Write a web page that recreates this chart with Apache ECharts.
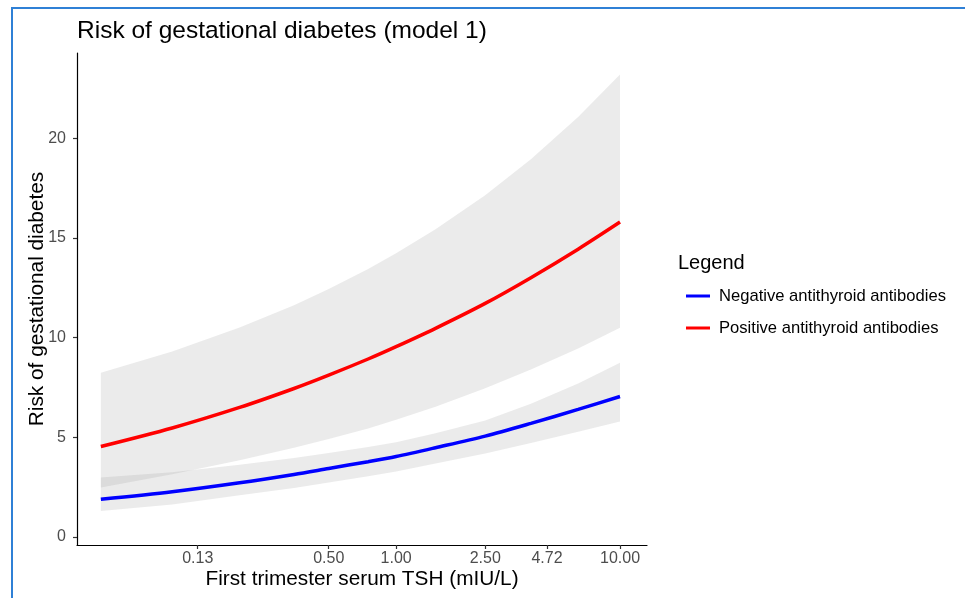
<!DOCTYPE html>
<html>
<head>
<meta charset="utf-8">
<script src="https://cdn.jsdelivr.net/npm/echarts@6/dist/echarts.min.js"></script>
<style>
html,body{margin:0;padding:0;background:#fff;}
#chart{width:965px;height:598px;}
</style>
</head>
<body>
<div id="chart"></div>
<script>
// TSH sample points (mIU/L)
const tsh = [0.048, 0.1, 0.2, 0.35, 0.5, 0.75, 1, 1.5, 2.5, 4, 6.5, 10];
// Negative antithyroid antibodies
const negRisk  = [1.89, 2.27, 2.72, 3.14, 3.44, 3.78, 4.04, 4.48, 5.06, 5.70, 6.40, 7.05];
const negUpper = [2.98, 3.25, 3.62, 3.97, 4.22, 4.52, 4.75, 5.20, 5.85, 6.69, 7.70, 8.74];
const negLower = [1.30, 1.63, 2.09, 2.46, 2.73, 3.05, 3.29, 3.69, 4.19, 4.72, 5.28, 5.79];
// Positive antithyroid antibodies
const posRisk  = [4.54, 5.47, 6.50, 7.45, 8.12, 8.93, 9.55, 10.47, 11.72, 13.01, 14.44, 15.8];
const posUpper = [8.24, 9.31, 10.51, 11.63, 12.44, 13.45, 14.23, 15.44, 17.15, 18.95, 21.07, 23.2];
const posLower = [2.49, 3.15, 3.85, 4.48, 4.92, 5.44, 5.88, 6.54, 7.46, 8.40, 9.46, 10.5];
// Tick labels
const xTicks = [0.13, 0.5, 1, 2.5, 4.72, 10];
const yTicks = [0, 5, 10, 15, 20];

const seriesNames = ['Negative antithyroid antibodies', 'Positive antithyroid antibodies'];
const FONT = 'Liberation Sans, Arial, sans-serif';
const lx = tsh.map(v => Math.log10(v));

function linePairs(ys) { return lx.map((x, i) => [x, ys[i]]); }

function bandSeries(lower, upper) {
  return {
    type: 'custom',
    silent: true,
    z: 1,
    data: [[lx[0], lower[0]]],
    renderItem: function (params, api) {
      const pts = [];
      for (let i = 0; i < lx.length; i++) pts.push(api.coord([lx[i], upper[i]]));
      for (let i = lx.length - 1; i >= 0; i--) pts.push(api.coord([lx[i], lower[i]]));
      return {
        type: 'polygon',
        shape: { points: pts },
        style: { fill: 'rgba(153,153,153,0.2)', stroke: null }
      };
    }
  };
}

const chart = echarts.init(document.getElementById('chart'), null, { renderer: 'canvas' });
chart.setOption({
  animation: false,
  backgroundColor: '#ffffff',
  graphic: [{
    type: 'rect',
    silent: true,
    shape: { x: 12, y: 8, width: 1000, height: 700 },
    style: { fill: null, stroke: '#2f80d6', lineWidth: 2 }
  }],
  title: [{
    text: 'Risk of gestational diabetes (model 1)',
    left: 72, top: 14,
    textStyle: { fontFamily: FONT, fontSize: 24.5, fontWeight: 'normal', color: '#000' }
  }, {
    text: 'Legend',
    left: 673, top: 248,
    textStyle: { fontFamily: FONT, fontSize: 20, fontWeight: 'normal', color: '#000' }
  }],
  legend: {
    data: seriesNames,
    orient: 'vertical',
    left: 681, top: 282,
    icon: 'rect',
    itemWidth: 24, itemHeight: 3,
    itemGap: 14,
    textStyle: { fontFamily: FONT, fontSize: 16.6, color: '#000', lineHeight: 18, padding: [0, 0, 0, 4] }
  },
  grid: { left: 77, right: 318, top: 53, bottom: 53, containLabel: false },
  xAxis: {
    type: 'value',
    min: Math.log10(0.03756),
    max: Math.log10(13.2),
    name: 'First trimester serum TSH (mIU/L)',
    nameLocation: 'middle',
    nameGap: 24,
    nameMoveOverlap: false,
    nameTextStyle: { fontFamily: FONT, fontSize: 20.8, color: '#000', verticalAlign: 'top' },
    axisLine: { show: true, onZero: false, lineStyle: { color: '#000', width: 1.2 } },
    axisTick: { show: true, length: 4, lineStyle: { color: '#333', width: 1.2 },
      customValues: xTicks.map(v => Math.log10(v)) },
    axisLabel: { show: true, margin: 6, fontFamily: FONT, fontSize: 16, color: '#4d4d4d',
      customValues: xTicks.map(v => Math.log10(v)),
      formatter: v => Math.pow(10, v).toFixed(2) },
    splitLine: { show: false }
  },
  yAxis: {
    type: 'value',
    min: -0.4,
    max: 24.28,
    name: 'Risk of gestational diabetes',
    nameLocation: 'middle',
    nameGap: 29,
    nameMoveOverlap: false,
    nameTextStyle: { fontFamily: FONT, fontSize: 20.8, color: '#000' },
    axisLine: { show: true, onZero: false, lineStyle: { color: '#000', width: 1.2 } },
    axisTick: { show: true, length: 4, lineStyle: { color: '#333', width: 1.2 }, customValues: yTicks },
    axisLabel: { show: true, margin: 11, fontFamily: FONT, fontSize: 16, color: '#4d4d4d', customValues: yTicks },
    splitLine: { show: false }
  },
  series: [
    bandSeries(negLower, negUpper),
    bandSeries(posLower, posUpper),
    {
      name: seriesNames[0], type: 'line', z: 3,
      data: linePairs(negRisk), showSymbol: false, smooth: 0.3,
      itemStyle: { color: '#0000ff' },
      lineStyle: { color: '#0000ff', width: 3.5 }
    },
    {
      name: seriesNames[1], type: 'line', z: 3,
      data: linePairs(posRisk), showSymbol: false, smooth: 0.3,
      itemStyle: { color: '#ff0000' },
      lineStyle: { color: '#ff0000', width: 3.5 }
    }
  ]
});
</script>
</body>
</html>
